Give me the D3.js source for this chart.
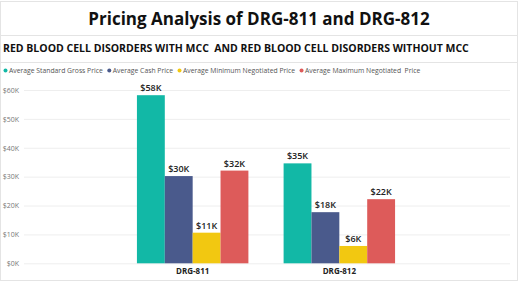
<!DOCTYPE html>
<html lang="en">
<head>
  <meta charset="UTF-8">
  <title>Pricing Analysis</title>
  <style type="text/css">
     body{ margin:0; background:#fff; }
     svg text{ font-family:"Open Sans", "Noto Sans", sans-serif; }
  </style>
  <script src="https://d3js.org/d3.v7.min.js"></script>
</head>
<body>
  <svg></svg>
  <script>
    const categories = ["DRG-811", "DRG-812"];
    const seriesNames = ["Average Standard Gross Price", "Average Cash Price",
                         "Average Minimum Negotiated Price", "Average Maximum Negotiated  Price"];
    const seriesColors = ["#12B8A6", "#4A5A8C", "#F2C811", "#DD5B5A"];
    const standardGross = [58200, 34600];
    const cashPrice = [30200, 17700];
    const minNegotiated = [10600, 6000];
    const maxNegotiated = [32100, 22200];
    const yTicks = [0, 10000, 20000, 30000, 40000, 50000, 60000];

    const W = 520, H = 283;
    const svg = d3.select("svg").attr("width", W).attr("height", H);

    // panel frames
    svg.append("rect").attr("x", 0.5).attr("y", 1.5).attr("width", 517).attr("height", 279)
       .attr("fill", "#fff").attr("stroke", "#e4e4e4");
    svg.append("line").attr("x1", 0).attr("x2", 518).attr("y1", 35.5).attr("y2", 35.5).attr("stroke", "#e4e4e4");
    svg.append("line").attr("x1", 0).attr("x2", 518).attr("y1", 62.5).attr("y2", 62.5).attr("stroke", "#e4e4e4");

    svg.append("text").attr("x", 259).attr("y", 25).attr("text-anchor", "middle")
       .attr("font-size", 17).attr("font-weight", 700).attr("fill", "#111")
       .text("Pricing Analysis of DRG-811 and DRG-812");
    svg.append("text").attr("x", 3).attr("y", 52)
       .attr("font-size", 10.5).attr("font-weight", 700).attr("fill", "#111")
       .style("white-space", "pre")
       .text("RED BLOOD CELL DISORDERS WITH MCC  AND RED BLOOD CELL DISORDERS WITHOUT MCC");

    // legend, laid out one after another
    const legend = svg.append("g").attr("transform", "translate(0,73)");
    let lx = 4;
    seriesNames.forEach((name, i) => {
      legend.append("circle").attr("cx", lx + 1.5).attr("cy", -2.5).attr("r", 2)
            .attr("fill", seriesColors[i]);
      const t = legend.append("text").attr("x", lx + 5).attr("y", 0)
            .attr("font-size", 6.8).attr("fill", "#555").style("white-space", "pre").text(name);
      lx += 5 + t.node().getComputedTextLength() + 5;
    });

    const y = d3.scaleLinear().domain([0, 60000]).range([263.3, 90]);
    const x0 = d3.scaleBand().domain(categories).range([24, 508]).paddingInner(0.24).paddingOuter(0.77);
    const x1 = d3.scaleBand().domain(d3.range(4)).range([0, x0.bandwidth()]);

    const fmtK = d => "$" + Math.round(d / 1000) + "K";

    const yAxis = d3.axisLeft(y).tickValues(yTicks).tickSize(-486).tickFormat(fmtK);
    const gy = svg.append("g").attr("transform", "translate(24,0)").call(yAxis);
    gy.select(".domain").remove();
    gy.selectAll(".tick line").attr("stroke", "#eeeeee");
    gy.selectAll(".tick text").attr("x", -5).attr("font-size", 7).attr("fill", "#777")
      .attr("font-family", "\"Open Sans\", sans-serif");

    const rows = categories.map((c, i) => ({
      cat: c,
      vals: [standardGross[i], cashPrice[i], minNegotiated[i], maxNegotiated[i]]
    }));

    const groups = svg.selectAll("g.grp").data(rows).enter().append("g")
      .attr("class", "grp").attr("transform", d => `translate(${x0(d.cat)},0)`);

    groups.selectAll("rect").data(d => d.vals).enter().append("rect")
      .attr("x", (d, i) => x1(i)).attr("width", x1.bandwidth())
      .attr("y", d => y(d)).attr("height", d => y(0) - y(d))
      .attr("fill", (d, i) => seriesColors[i]);

    groups.selectAll("text.lbl").data(d => d.vals).enter().append("text")
      .attr("class", "lbl")
      .attr("x", (d, i) => x1(i) + x1.bandwidth() / 2).attr("y", d => y(d) - 4)
      .attr("text-anchor", "middle").attr("font-size", 9).attr("font-weight", 600)
      .attr("fill", "#222").text(fmtK);

    groups.append("text").attr("x", x0.bandwidth() / 2).attr("y", 274)
      .attr("text-anchor", "middle").attr("font-size", 8).attr("font-weight", 700)
      .attr("fill", "#222").text(d => d.cat);
  </script>
</body>
</html>
